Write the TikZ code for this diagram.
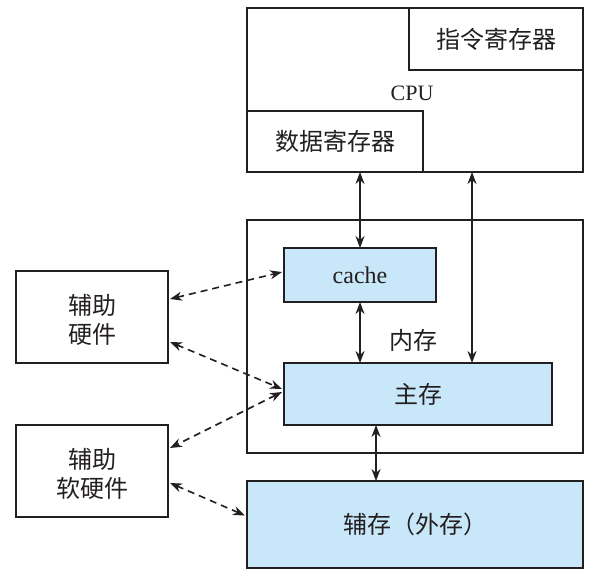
\documentclass[tikz,border=0pt]{standalone}
\usepackage{fontspec}
\setmainfont{Liberation Serif}
\newfontfamily\cjk{Noto Sans CJK SC}
\usetikzlibrary{arrows.meta}
\definecolor{memblue}{RGB}{200,231,248}
\definecolor{ink}{RGB}{35,31,32}
\begin{document}
\begin{tikzpicture}[x=1pt,y=-1pt,
  box/.style={draw=ink, line width=1.8pt, inner sep=0pt, outer sep=0pt, anchor=north west},
  fillbox/.style={box, fill=memblue},
  lbl/.style={inner sep=0pt, font=\fontsize{22}{28}\selectfont, text=ink},
  zh/.style={inner sep=0pt, font=\cjk\fontsize{24}{29}\selectfont, text=ink, align=center},
  arr/.style={draw=ink, line width=1.6pt, {Stealth[length=12pt,width=9pt]}-{Stealth[length=12pt,width=9pt]}},
  darr/.style={arr, dash pattern=on 7pt off 5pt}]
\useasboundingbox (0,0) rectangle (596,580);
% CPU
\node[box, minimum width=336pt, minimum height=164pt] (cpu) at (247,8) {};
\node[box, minimum width=174pt, minimum height=62pt] (ireg) at (409,8) {};
\node[zh] (iregt) at (ireg.center) {指令寄存器};
\node[box, minimum width=176pt, minimum height=61pt] (dreg) at (247,111) {};
\node[zh] (dregt) at (dreg.center) {数据寄存器};
\node[lbl] (cpul) at (412,93) {CPU};
% memory
\node[box, minimum width=336pt, minimum height=233pt] (mem) at (247,220) {};
\node[fillbox, minimum width=152pt, minimum height=54pt] (cache) at (284,248) {};
\node[lbl, font=\fontsize{24}{28}\selectfont] (cachet) at (cache.center) {cache};
\node[fillbox, minimum width=268pt, minimum height=62pt] (main) at (284,363) {};
\node[zh] (maint) at (main.center) {主存};
\node[zh] (memt) at (413,340) {内存};
% aux storage
\node[fillbox, minimum width=336pt, minimum height=87pt] (aux) at (247,481) {};
\node[zh] (auxt) at (aux.center) {辅存（外存）};
% aux hw / sw
\node[box, minimum width=152pt, minimum height=92pt] (hw) at (16,271) {};
\node[zh] (hwt) at ([yshift=-3pt]hw.center) {辅助\\硬件};
\node[box, minimum width=152pt, minimum height=92pt] (sw) at (16,425) {};
\node[zh] (swt) at ([yshift=-3pt]sw.center) {辅助\\软硬件};
% solid arrows
\draw[arr] (cache.north) -- (cache.north |- dreg.south);
\draw[arr] ([xshift=188pt]main.north west) -- ([xshift=188pt]main.north west |- cpu.south);
\draw[arr] (cache.south) -- (cache.south |- main.north);
\draw[arr] ([xshift=92pt]main.south west) -- ([xshift=92pt]main.south west |- aux.north);
% dashed arrows
\draw[darr] ([xshift=2pt,yshift=18pt]hw.east) -- ([xshift=-2pt,yshift=3pt]cache.west);
\draw[darr] ([xshift=2pt,yshift=-25pt]hw.east) -- ([xshift=-2pt,yshift=5pt]main.west);
\draw[darr] ([xshift=-2pt,yshift=2pt]main.west) -- ([xshift=2pt,yshift=23pt]sw.east);
\draw[darr] ([xshift=2pt,yshift=-12pt]sw.east) -- ([xshift=-2pt,yshift=9pt]aux.west);
\end{tikzpicture}
\end{document}
